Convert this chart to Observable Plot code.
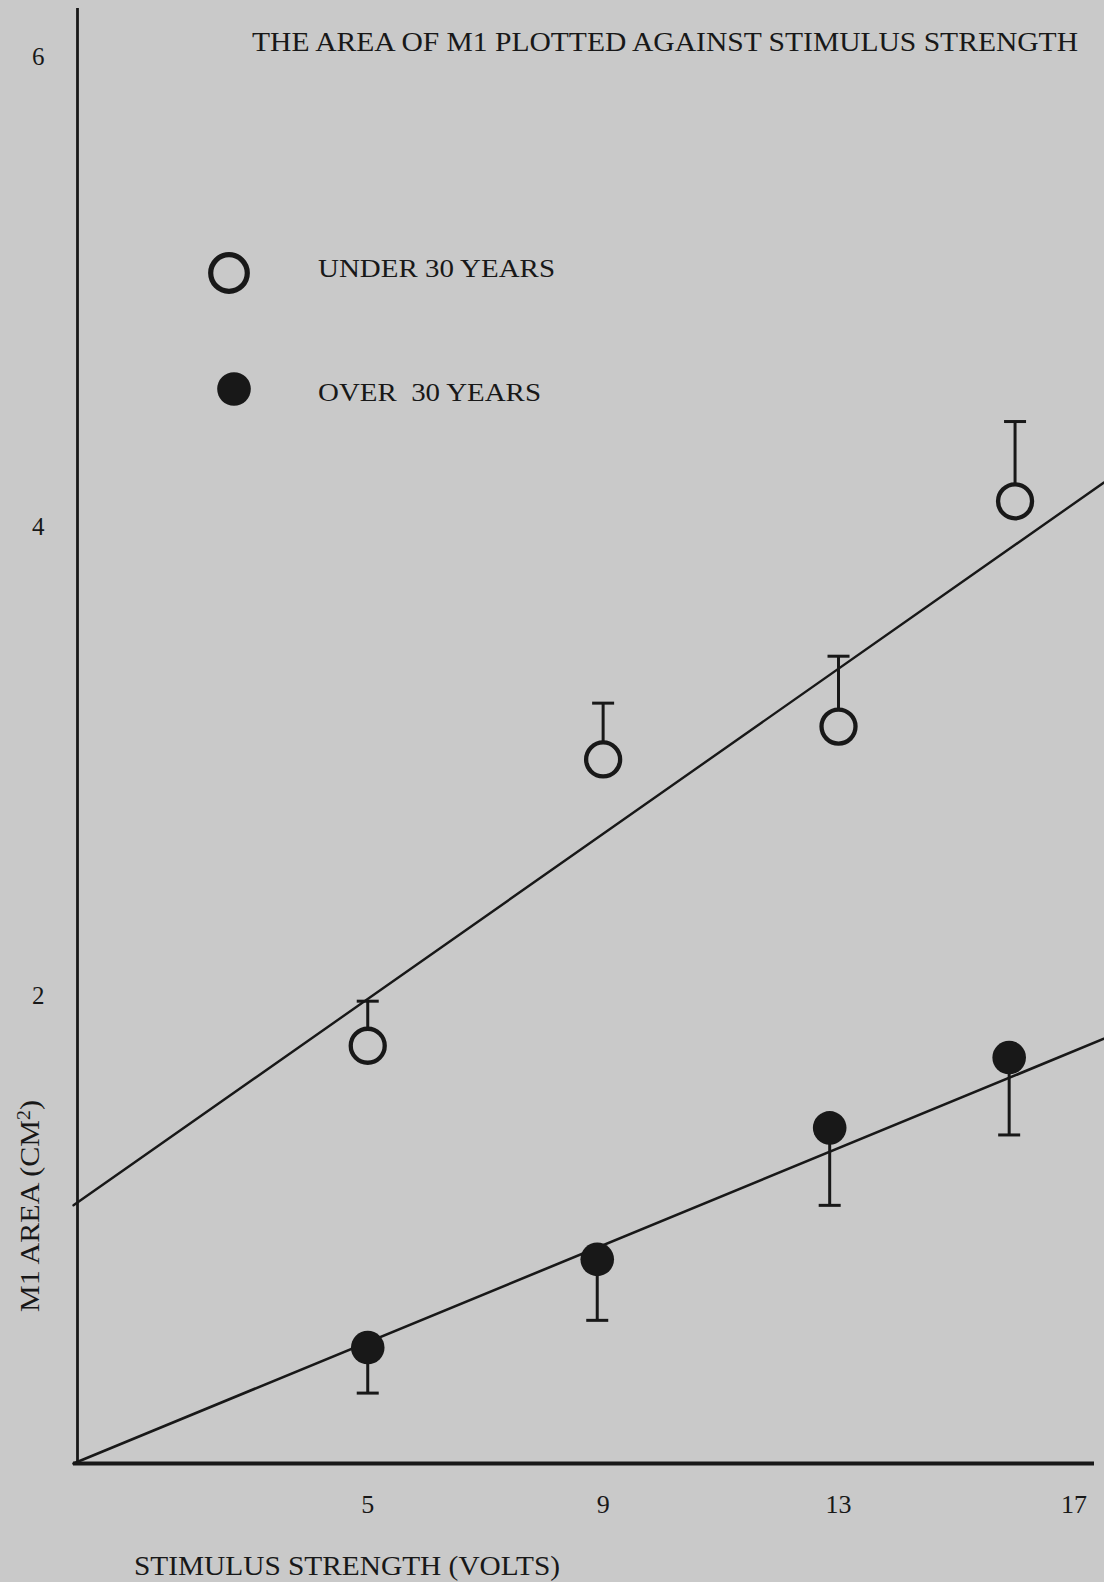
<!DOCTYPE html>
<html>
<head>
<meta charset="utf-8">
<script src="https://cdn.jsdelivr.net/npm/d3@7"></script>
<script src="https://cdn.jsdelivr.net/npm/@observablehq/plot@0.6"></script>
<style>
  html, body { margin: 0; padding: 0; background: #c9c9c9; }
  #wrap { position: relative; width: 1104px; height: 1582px; overflow: hidden;
          font-family: "Liberation Serif", "DejaVu Serif", serif; color: #181818; }
  #chart { position: absolute; left: 0; top: 0; }
  .lbl { position: absolute; white-space: pre; line-height: 1; transform-origin: left center; }
  #title { left: 252px; top: 28px; font-size: 28px; }
  #xlabel { left: 134px; top: 1553px; font-size: 27px; }
  #ylabel { left: 30px; top: 1206px; font-size: 27px; transform-origin: center center; }
  #ylabel sup { font-size: 0.66em; line-height: 0; vertical-align: 0.5em; }
  .leg { position: absolute; }
  .legtext { position: absolute; white-space: pre; line-height: 1; font-size: 26px; transform-origin: left center; }
</style>
</head>
<body>
<div id="wrap">
  <div id="chart"></div>
  <div class="lbl" id="title">THE AREA OF M1 PLOTTED AGAINST STIMULUS STRENGTH</div>
  <div id="legend"></div>
  <div class="lbl" id="xlabel">STIMULUS STRENGTH (VOLTS)</div>
  <div class="lbl" id="ylabel">M1 AREA (CM<sup>2</sup>)</div>
</div>
<script>
// ---- data ----
const under30X     = [5, 9, 13, 16];
const under30Mean  = [1.78, 3.00, 3.14, 4.10];
const under30Upper = [1.97, 3.24, 3.44, 4.44];

const over30X      = [5, 8.9, 12.85, 15.9];
const over30Mean   = [0.494, 0.87, 1.43, 1.73];
const over30Lower  = [0.30, 0.61, 1.10, 1.40];

const fitX         = [0, 17.51];
const under30Fit   = [1.10, 4.18];
const over30Fit    = [0, 1.81];

const xTicks = [5, 9, 13, 17];
const yTicks = [2, 4, 6];
const legendLabels = ["UNDER 30 YEARS", "OVER  30 YEARS"];

// ---- build ----
const ink = "#181818";
const paper = "#c9c9c9";
const fontFamily = "'Liberation Serif', 'DejaVu Serif', serif";

const under = under30X.map((x, i) => ({x, mean: under30Mean[i], end: under30Upper[i]}));
const over  = over30X.map((x, i) => ({x, mean: over30Mean[i], end: over30Lower[i]}));
const fit   = fitX.map((x, i) => ({x, u: under30Fit[i], o: over30Fit[i]}));

const capSymbol = {
  draw(ctx, size) {
    const w = Math.sqrt(size / Math.PI);
    ctx.moveTo(-w, 0);
    ctx.lineTo(w, 0);
  }
};

const chart = Plot.plot({
  width: 1104,
  height: 1582,
  marginLeft: 73,
  marginRight: 10,
  marginTop: 8,
  marginBottom: 119,
  x: {domain: [0, 17.35]},
  y: {domain: [0, 6.2]},
  style: {background: "transparent", fontFamily, color: ink, fontSize: "25px"},
  marks: [
    Plot.line(fit, {x: "x", y: "u", stroke: ink, strokeWidth: 2.4}),
    Plot.line(fit, {x: "x", y: "o", stroke: ink, strokeWidth: 2.6}),
    // under 30: error bars upward, open circles
    Plot.ruleX(under, {x: "x", y1: "mean", y2: "end", stroke: ink, strokeWidth: 3}),
    Plot.dot(under, {x: "x", y: "end", symbol: capSymbol, r: 11, fill: "none", stroke: ink, strokeWidth: 3}),
    Plot.dot(under, {x: "x", y: "mean", r: 17, fill: paper, stroke: ink, strokeWidth: 4.3}),
    // over 30: error bars downward, filled circles
    Plot.ruleX(over, {x: "x", y1: "mean", y2: "end", stroke: ink, strokeWidth: 3}),
    Plot.dot(over, {x: "x", y: "end", symbol: capSymbol, r: 11, fill: "none", stroke: ink, strokeWidth: 3}),
    Plot.dot(over, {x: "x", y: "mean", r: 16.8, fill: ink, stroke: "none"}),
    // axes
    Plot.ruleX([0], {stroke: ink, strokeWidth: 2.8, dx: 4}),
    Plot.ruleY([0], {stroke: ink, strokeWidth: 4}),
    Plot.axisX({ticks: xTicks, tickSize: 0, tickPadding: 31, fontSize: 26, label: null, tickFormat: d3.format("d")}),
    Plot.axisY({ticks: yTicks, tickSize: 0, tickPadding: 29, fontSize: 25, dy: 2, label: null, tickFormat: d3.format("d")})
  ]
});
document.getElementById("chart").appendChild(chart);

// legend (HTML overlay)
const legendSpecs = [
  {label: legendLabels[0], cx: 229, cy: 272.5, r: 18.3, fill: "none", stroke: ink, sw: 5.2, tx: 318, ty: 256, w: 237},
  {label: legendLabels[1], cx: 234, cy: 389, r: 16.8, fill: ink, stroke: "none", sw: 0, tx: 318, ty: 380, w: 223}
];
const legend = d3.select("#legend");
legendSpecs.forEach(s => {
  const svg = legend.append("svg").attr("class", "leg")
    .style("left", (s.cx - 25) + "px").style("top", (s.cy - 25) + "px")
    .attr("width", 50).attr("height", 50);
  svg.append("circle").attr("cx", 25).attr("cy", 25).attr("r", s.r)
    .attr("fill", s.fill).attr("stroke", s.stroke).attr("stroke-width", s.sw);
  legend.append("div").attr("class", "legtext")
    .style("left", s.tx + "px").style("top", s.ty + "px")
    .attr("data-w", s.w)
    .text(s.label);
});

// stretch text horizontally to the reference widths (the original face is wider)
function fitWidth(el, target, prefix = "") {
  const w = el.getBoundingClientRect().width;
  el.style.transform = prefix + " scaleX(" + (target / w) + ")";
}
fitWidth(document.getElementById("title"), 826);
fitWidth(document.getElementById("xlabel"), 426);
fitWidth(document.getElementById("ylabel"), 212, "translate(-50%, -50%) rotate(-90deg)");
document.querySelectorAll(".legtext").forEach(el => fitWidth(el, +el.dataset.w));
</script>
</body>
</html>
